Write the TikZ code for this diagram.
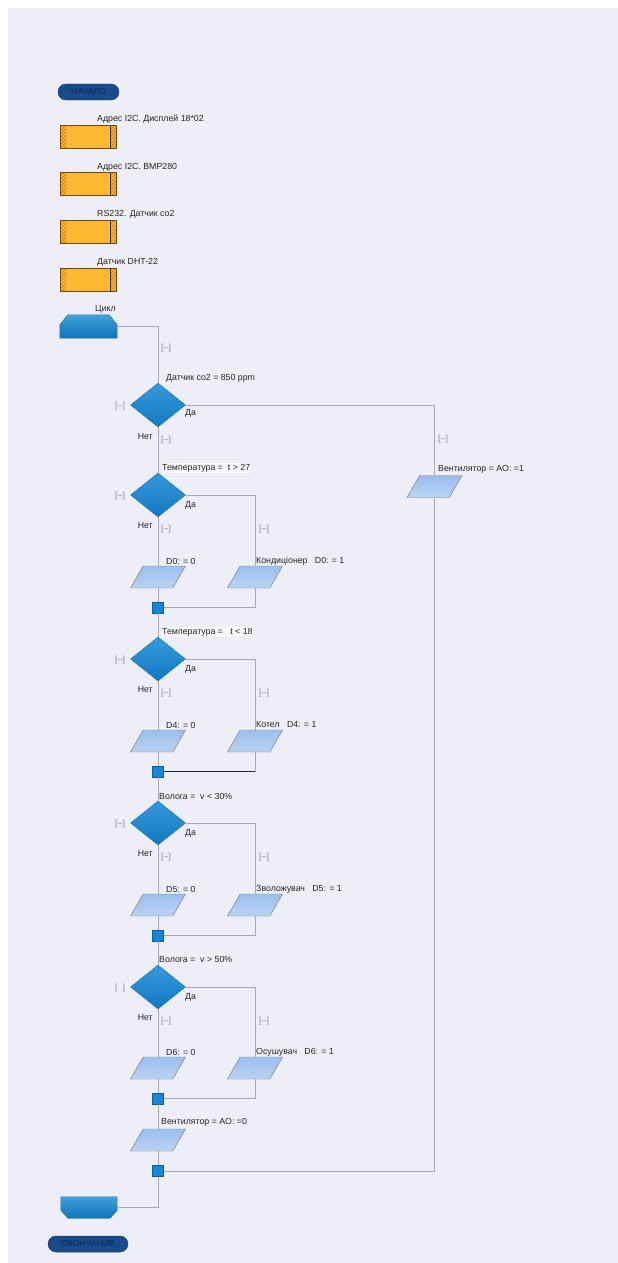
\documentclass[tikz,border=0pt]{standalone}
\usepackage{fontspec}
\setmainfont{Liberation Sans}
\usetikzlibrary{shapes.geometric,patterns}

\definecolor{panelbg}{RGB}{238,238,247}
\definecolor{linegray}{RGB}{168,168,178}
\definecolor{pillblue}{RGB}{24,74,140}
\definecolor{pilltext}{RGB}{10,36,82}
\definecolor{ioorange}{RGB}{255,184,52}
\definecolor{iohatch}{RGB}{170,100,5}
\definecolor{decblue}{RGB}{20,135,214}
\definecolor{paratop}{RGB}{155,190,236}
\definecolor{parabot}{RGB}{186,211,244}

\begin{document}
\begin{tikzpicture}[x=0.03cm, y=-0.03cm,
    every node/.style={font=\fontsize{7.5}{8.5}\selectfont},
    flow/.style={draw=linegray, line width=0.8pt},
    txt/.style={inner sep=0, anchor=west, text=black!85},
    brk/.style={txt, text=black!45},
    pill/.style={rectangle, rounded corners=0.24cm, fill=pillblue, draw=pillblue!80!black, text=pilltext, minimum height=0.48cm, inner sep=0, font=\fontsize{7.2}{8}\selectfont},
    iobox/.style={rectangle, fill=ioorange, draw=iohatch!70!black, line width=0.3pt, minimum width=1.68cm, minimum height=0.69cm, inner sep=0,
        path picture={
            \fill[pattern=north east lines, pattern color=iohatch] (path picture bounding box.south west) rectangle ([xshift=0.18cm]path picture bounding box.north west);
            \fill[pattern=north east lines, pattern color=iohatch] ([xshift=-0.18cm]path picture bounding box.south east) rectangle (path picture bounding box.north east);
            \draw[black!80, line width=0.6pt] ([xshift=-0.18cm]path picture bounding box.south east) -- ([xshift=-0.18cm]path picture bounding box.north east);
        }},
    loopbox/.style={rectangle, minimum width=1.71cm, minimum height=0.69cm, inner sep=0},
    loopfill/.style={top color=decblue!80!white, bottom color=decblue!85!black, draw=decblue!80!black, line width=0.3pt},
    decision/.style={diamond, top color=decblue!85!white, bottom color=decblue!90!black, draw=decblue!80!black, line width=0.3pt, minimum width=1.65cm, minimum height=1.32cm, inner sep=1pt},
    para/.style={trapezium, trapezium left angle=67, trapezium right angle=113, trapezium stretches, top color=paratop, bottom color=parabot, draw=black!50, line width=0.4pt, minimum width=1.65cm, minimum height=0.66cm, inner sep=1pt},
    junction/.style={rectangle, fill=decblue, draw=decblue!70!black, line width=0.4pt, minimum size=0.33cm, inner sep=0}]

    % Background
    \fill[white] (0,0) rectangle (618,1263);
    \fill[panelbg] (8,8) rectangle (618,1263);
    \useasboundingbox (0,0) rectangle (618,1263);

    % Start and setup boxes
    \node (start) [pill, minimum width=1.83cm] at (88.5,92) {НАЧАЛО};
    \node (io1) [iobox] at (88.5,136.5) {};
    \node (io1t) [txt] at (97,119) {Адрес I2C. Дисплей 18*02};
    \node (io2) [iobox] at (88.5,183.5) {};
    \node (io2t) [txt] at (97,167) {Адрес I2C. BMP280};
    \node (io3) [iobox] at (88.5,231.5) {};
    \node (io3t) [txt] at (97,214) {RS232. Датчик co2};
    \node (io4) [iobox] at (88.5,279.5) {};
    \node (io4t) [txt] at (97,262) {Датчик DHT-22};

    % Loop start
    \node (loop) [loopbox] at (88.5,326.5) {};
    \shade[loopfill] (loop.south west) -- ([yshift=-0.3cm]loop.north west) -- ([xshift=0.24cm]loop.north west)
        -- ([xshift=-0.24cm]loop.north east) -- ([yshift=-0.3cm]loop.north east) -- (loop.south east) -- cycle;
    \node (loopt) [txt] at (95,309) {Цикл};
    \node (l0) [brk] at (161,348) {[–]};

    % Decision 1: co2
    \node (d1) [decision] at (158,405) {};
    \node (d1t) [txt] at (166,378) {Датчик co2 = 850 ppm};
    \node (d1l) [brk] at (115,406) {[–]};
    \node (d1y) [txt] at (185,413) {Да};
    \node (d1n) [txt, anchor=east] at (153,437) {Нет};
    \node (d1b) [brk] at (161,440) {[–]};
    \node (d1r) [brk] at (438,439) {[–]};
    \node (fan1) [para] at (434.5,486.5) {};
    \node (fan1t) [txt] at (438,469) {Вентилятор = AO: =1};
    \draw[flow] (loop.east) -| (d1.north);
    \draw[flow] (d1.east) -| (fan1.north);

    % Decision 2: t > 27
    \node (d2) [decision] at (158,495) {};
    \node (d2t) [txt, fill=white!60!panelbg, inner ysep=1pt] at (162,468) {Температура =\ \ t > 27};
    \node (d2l) [brk] at (115,496) {[–]};
    \node (d2y) [txt] at (185,505) {Да};
    \node (d2n) [txt, anchor=east] at (153,526) {Нет};
    \node (d2b) [brk] at (161,529) {[–]};
    \node (d2r) [brk] at (259,529) {[–]};
    \node (p2a) [para] at (158,577) {};
    \node (p2at) [txt] at (166,561) {D0: = 0};
    \node (p2b) [para] at (255,577) {};
    \node (p2bt) [txt] at (256,561) {Кондиціонер\ \ \ D0: = 1};
    \node (j2) [junction] at (158,607.5) {};
    \draw[flow] (d1.south) -- (d2.north);
    \draw[flow] (d2.south) -- (p2a.north);
    \draw[flow] (p2a.south) -- (j2.north);
    \draw[flow] (d2.east) -| (p2b.north);
    \draw[flow] (p2b.south) |- (j2.east);

    % Decision 3: t < 18
    \node (d3) [decision] at (158,659) {};
    \node (d3t) [txt, fill=white!60!panelbg, inner ysep=1pt] at (162,632) {Температура =\ \ \ t < 18};
    \node (d3l) [brk] at (115,660) {[–]};
    \node (d3y) [txt] at (185,669) {Да};
    \node (d3n) [txt, anchor=east] at (153,690) {Нет};
    \node (d3b) [brk] at (161,693) {[–]};
    \node (d3r) [brk] at (259,693) {[–]};
    \node (p3a) [para] at (158,741) {};
    \node (p3at) [txt] at (166,725) {D4: = 0};
    \node (p3b) [para] at (255,741) {};
    \node (p3bt) [txt] at (256,725) {Котел\ \ \ D4: = 1};
    \node (j3) [junction] at (158,771.5) {};
    \coordinate (c3) at (255,771.5);
    \draw[flow] (j2.south) -- (d3.north);
    \draw[flow] (d3.south) -- (p3a.north);
    \draw[flow] (p3a.south) -- (j3.north);
    \draw[flow] (d3.east) -| (p3b.north);
    \draw[flow] (p3b.south) -- (c3);
    \draw[flow, draw=black!85] (c3) -- (j3.east);

    % Decision 4: v < 30%
    \node (d4) [decision] at (158,823) {};
    \node (d4t) [txt] at (159,796) {Волога =\ \ v < 30\%};
    \node (d4l) [brk] at (115,824) {[–]};
    \node (d4y) [txt] at (185,833) {Да};
    \node (d4n) [txt, anchor=east] at (153,854) {Нет};
    \node (d4b) [brk] at (161,857) {[–]};
    \node (d4r) [brk] at (259,857) {[–]};
    \node (p4a) [para] at (158,905) {};
    \node (p4at) [txt] at (166,889) {D5: = 0};
    \node (p4b) [para] at (255,905) {};
    \node (p4bt) [txt] at (256,889) {Зволожувач\ \ \ D5: = 1};
    \node (j4) [junction] at (158,935.5) {};
    \draw[flow] (j3.south) -- (d4.north);
    \draw[flow] (d4.south) -- (p4a.north);
    \draw[flow] (p4a.south) -- (j4.north);
    \draw[flow] (d4.east) -| (p4b.north);
    \draw[flow] (p4b.south) |- (j4.east);

    % Decision 5: v > 50%
    \node (d5) [decision] at (158,987) {};
    \node (d5t) [txt] at (159,959) {Волога =\ \ v > 50\%};
    \node (d5l) [brk] at (115,988) {[\ \ ]};
    \node (d5y) [txt] at (185,997) {Да};
    \node (d5n) [txt, anchor=east] at (153,1018) {Нет};
    \node (d5b) [brk] at (161,1021) {[–]};
    \node (d5r) [brk] at (259,1021) {[–]};
    \node (p5a) [para] at (158,1068) {};
    \node (p5at) [txt] at (166,1052) {D6: = 0};
    \node (p5b) [para] at (255,1068) {};
    \node (p5bt) [txt] at (256,1052) {Осушувач\ \ \ D6: = 1};
    \node (j5) [junction] at (158,1098.5) {};
    \draw[flow] (j4.south) -- (d5.north);
    \draw[flow] (d5.south) -- (p5a.north);
    \draw[flow] (p5a.south) -- (j5.north);
    \draw[flow] (d5.east) -| (p5b.north);
    \draw[flow] (p5b.south) |- (j5.east);

    % Fan off and loop end
    \node (fan0) [para] at (158,1140) {};
    \node (fan0t) [txt] at (161,1122) {Вентилятор = AO: =0};
    \node (j6) [junction] at (158,1171) {};
    \node (endloop) [loopbox, minimum width=1.68cm, minimum height=0.63cm] at (89,1207.5) {};
    \shade[loopfill] (endloop.north west) -- ([yshift=0.24cm]endloop.south west) -- ([xshift=0.21cm]endloop.south west)
        -- ([xshift=-0.21cm]endloop.south east) -- ([yshift=0.24cm]endloop.south east) -- (endloop.north east) -- cycle;
    \node (end) [pill, minimum width=2.4cm] at (88,1244) {ОКОНЧАНИЕ};
    \draw[flow] (j5.south) -- (fan0.north);
    \draw[flow] (fan0.south) -- (j6.north);
    \draw[flow] (fan1.south) |- (j6.east);
    \draw[flow] (j6.south) |- (endloop.east);

\end{tikzpicture}
\end{document}
